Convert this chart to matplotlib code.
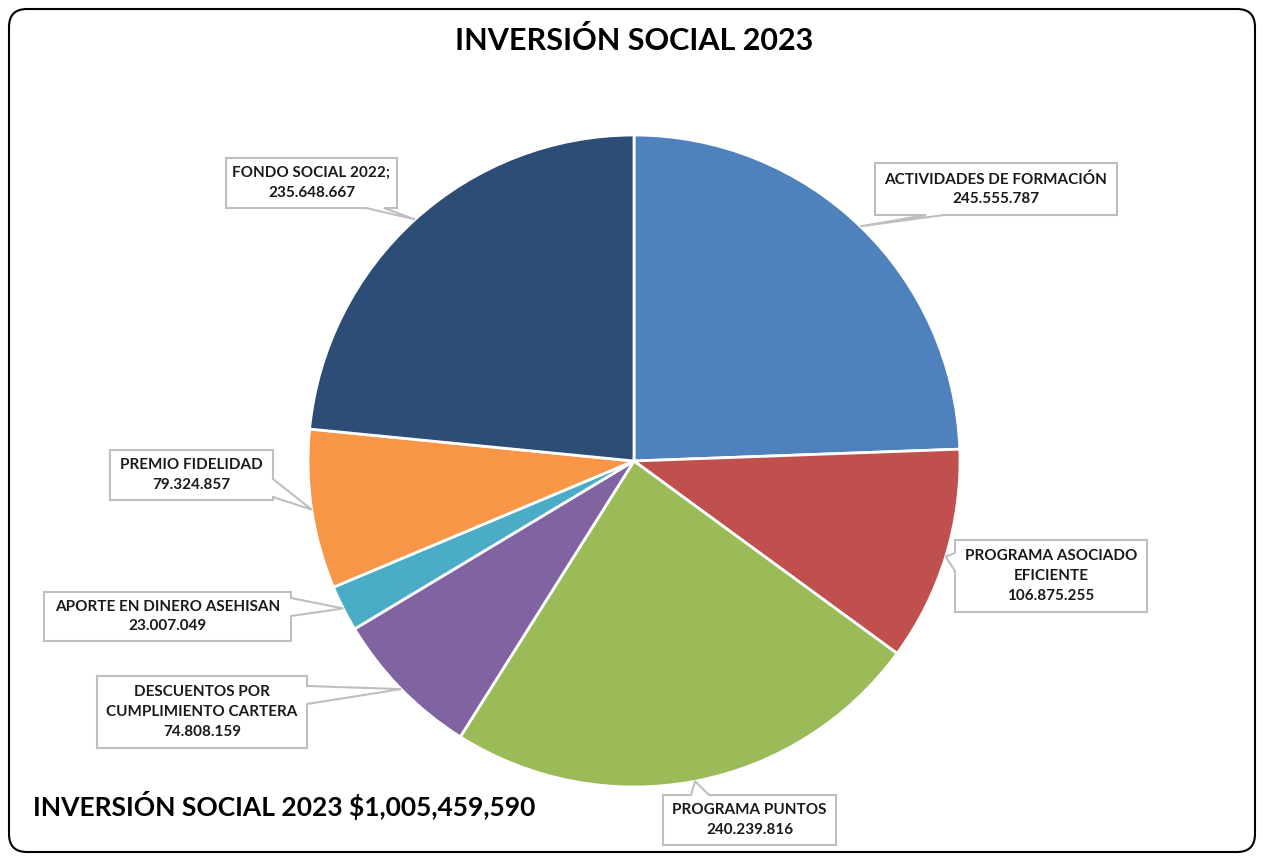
import matplotlib.pyplot as plt
import numpy as np
from matplotlib.patches import Polygon, FancyBboxPatch

W, H = 1263, 859

labels = ["ACTIVIDADES DE FORMACIÓN", "PROGRAMA ASOCIADO\nEFICIENTE", "PROGRAMA PUNTOS",
          "DESCUENTOS POR\nCUMPLIMIENTO CARTERA", "APORTE EN DINERO ASEHISAN",
          "PREMIO FIDELIDAD", "FONDO SOCIAL 2022;"]
values = [245555787, 106875255, 240239816, 74808159, 23007049, 79324857, 235648667]
colors = ["#4F81BD", "#C0504D", "#9BBB59", "#8064A2", "#4BACC6", "#F79646", "#2C4D75"]
title = "INVERSIÓN SOCIAL 2023"

# callout boxes in pixel coords (x0, top, x1, bottom, side, base position)
boxes = [
    (875, 163, 1117, 215, "bottom", 935),
    (955, 540, 1147, 612, "left", 562),
    (663, 795, 836, 845, "top", 700),
    (97, 676, 307, 748, "right", 695),
    (44, 592, 291, 641, "right", 607),
    (110, 450, 273, 500, "right", 488),
    (226, 158, 397, 208, "bottom", 375),
]

FONT = "Lato"


def py(y):
    return H - y


def callout(box, tip, hw=9):
    x0, yt, x1, yb, side, p = box
    pts = [(x0, yt)]
    if side == "top":
        pts += [(p - hw, yt), tip, (p + hw, yt)]
    pts.append((x1, yt))
    if side == "right":
        pts += [(x1, p - hw), tip, (x1, p + hw)]
    pts.append((x1, yb))
    if side == "bottom":
        pts += [(p + hw, yb), tip, (p - hw, yb)]
    pts.append((x0, yb))
    if side == "left":
        pts += [(x0, p + hw), tip, (x0, p - hw)]
    return [(x, py(y)) for x, y in pts]


def main():
    fig = plt.figure(figsize=(W / 100, H / 100), dpi=100)
    ax = fig.add_axes([0, 0, 1, 1])

    cx, cy, r = 634, py(461), 326
    wedges, _ = ax.pie(values, colors=colors, startangle=90, counterclock=False,
                       center=(cx, cy), radius=r,
                       wedgeprops=dict(edgecolor="white", linewidth=2))

    for w, lab, val, box in zip(wedges, labels, values, boxes):
        mid = np.deg2rad((w.theta1 + w.theta2) / 2)
        tip = (cx + r * np.cos(mid), H - (cy + r * np.sin(mid)))
        ax.add_patch(Polygon(callout(box, tip), closed=True, facecolor="white",
                             edgecolor="#BFBFBF", linewidth=1.5, zorder=5))
        x0, yt, x1, yb = box[:4]
        txt = lab + "\n" + f"{val:,}".replace(",", ".")
        ax.text((x0 + x1) / 2, py((yt + yb) / 2), txt, ha="center", va="center",
                fontsize=11, fontweight="bold", family=FONT, color="#1A1A1A",
                linespacing=1.5, zorder=6)

    ax.text(634, py(40), title, ha="center", va="center", fontsize=22,
            fontweight="bold", family=FONT, color="black")
    ax.text(33, py(805), f"{title} ${sum(values):,}", ha="left", va="center",
            fontsize=19, fontweight="bold", family=FONT, color="black")

    ax.add_patch(FancyBboxPatch((9, py(852)), 1246, 843,
                                boxstyle="round,pad=0,rounding_size=18",
                                facecolor="none", edgecolor="black", linewidth=1.5))

    ax.set_xlim(0, W)
    ax.set_ylim(0, H)
    ax.set_aspect("equal")
    ax.axis("off")
    fig.savefig("out.png", dpi=100)


if __name__ == "__main__":
    main()
